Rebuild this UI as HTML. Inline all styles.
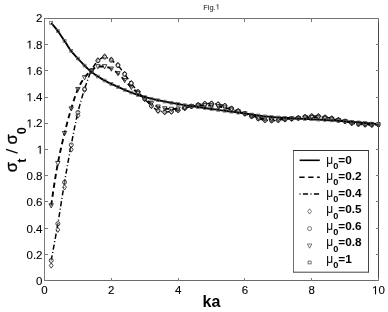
<!DOCTYPE html>
<html><head><meta charset="utf-8"><title>Fig.1</title>
<style>
html,body{margin:0;padding:0;background:#fff;}
body{width:388px;height:312px;overflow:hidden;font-family:"Liberation Sans",sans-serif;}
svg{display:block;will-change:transform;font-family:"Liberation Sans",sans-serif;}
.ln{fill:none;stroke:#000;stroke-width:1.9;stroke-linejoin:round;}
.t{stroke-dasharray:5.3 3.6;}
.d{stroke-dasharray:5.2 2.4 1 2.4;stroke-width:1.5;}
.mk *{fill:none;stroke:#2c2c2c;stroke-width:0.8;}
.mf *{fill:#fff;fill-opacity:0.35;stroke:#111;}
.lm *{stroke:#4c4c4c;stroke-width:0.75;}
.ms *{fill:none;stroke:#555;stroke-width:0.65;}
.ax{fill:none;stroke:#787878;stroke-width:1;shape-rendering:crispEdges;}
.tk text{font-size:11.5px;fill:#000;stroke:#000;stroke-width:0.1;}
.sg{font-size:16.5px;stroke:#000;stroke-width:0.35;}
.sb{font-size:12.7px;font-weight:bold;}
.g1{fill:#000;stroke:#000;stroke-width:18;}
.lg{font-size:11.8px;font-weight:bold;fill:#000;}
.lg .mu{font-weight:normal;font-size:12px;}
.lg .sub{font-size:9.2px;}
</style></head>
<body>
<svg width="388" height="312" viewBox="0 0 388 312">
<rect width="388" height="312" fill="#fff"/>
<text x="203.2" y="9.5" font-size="7.5" fill="#111">Fig.</text><path d="M515 0V1237L197 1010V1180L530 1409H696V0Z" transform="translate(215.70,9.50) scale(0.00366,-0.00366)" fill="#111"/>
<clipPath id="cp"><rect x="44.5" y="18.5" width="336.0" height="262.0"/></clipPath>
<g clip-path="url(#cp)">
<path d="M51.18,205.57 L52.85,193.79 L54.52,182.74 L56.19,172.53 L57.86,163.25 L59.53,154.90 L61.20,147.25 L62.87,140.10 L64.54,133.26 L66.21,126.62 L67.88,120.27 L69.55,114.26 L71.22,108.63 L72.89,103.23 L74.56,98.05 L76.23,93.31 L77.90,89.24 L79.57,85.73 L81.24,82.56 L82.91,79.79 L84.58,77.45 L86.25,75.49 L87.92,73.79 L89.59,72.27 L91.26,70.90 L92.93,69.46 L94.60,68.01 L96.27,66.89 L97.94,66.45 L99.61,66.45 L101.28,66.45 L102.95,66.45 L104.62,66.45 L106.29,66.67 L107.96,67.24 L109.63,68.00 L111.30,68.80 L112.97,69.70 L114.64,70.80 L116.31,72.04 L117.98,73.39 L119.65,74.93 L121.32,76.68 L122.99,78.53 L124.66,80.33 L126.33,82.09 L128.00,83.87 L129.67,85.62 L131.34,87.27 L133.01,88.83 L134.68,90.33 L136.35,91.77 L138.02,93.17 L139.69,94.53 L141.36,95.85 L143.03,97.13 L144.70,98.41 L146.37,99.72 L148.04,101.03 L149.71,102.28 L151.38,103.39 L153.05,104.38 L154.72,105.31 L156.39,106.13 L158.06,106.79 L159.73,107.34 L161.40,107.83 L163.07,108.22 L164.74,108.50 L166.41,108.69 L168.08,108.86 L169.75,108.98 L171.42,109.02 L173.09,109.00 L174.76,108.94 L176.43,108.86 L178.10,108.76 L179.77,108.61 L181.44,108.39 L183.11,108.13 L184.78,107.84 L186.45,107.48 L188.12,107.03 L189.79,106.60 L191.46,106.29 L193.13,106.11 L194.80,105.96 L196.47,105.84 L198.14,105.73 L199.81,105.62 L201.48,105.51 L203.15,105.43 L204.82,105.40 L206.49,105.42 L208.16,105.47 L209.83,105.54 L211.50,105.62 L213.17,105.75 L214.84,105.96 L216.51,106.20 L218.18,106.46 L219.85,106.72 L221.52,107.01 L223.19,107.33 L224.86,107.69 L226.53,108.12 L228.20,108.64 L229.87,109.18 L231.54,109.70 L233.21,110.18 L234.88,110.66 L236.55,111.14 L238.22,111.63 L239.89,112.13 L241.56,112.63 L243.23,113.14 L244.90,113.65 L246.57,114.17 L248.24,114.70 L249.91,115.21 L251.58,115.70 L253.25,116.16 L254.92,116.61 L256.59,117.03 L258.26,117.42 L259.93,117.79 L261.60,118.16 L263.27,118.47 L264.94,118.70 L266.61,118.87 L268.28,119.03 L269.95,119.14 L271.62,119.19 L273.29,119.18 L274.96,119.18 L276.63,119.16 L278.30,119.15 L279.97,119.11 L281.64,119.02 L283.31,118.93 L284.98,118.85 L286.65,118.79 L288.32,118.73 L289.99,118.67 L291.66,118.61 L293.33,118.52 L295.00,118.43 L296.67,118.32 L298.34,118.21 L300.01,118.07 L301.68,117.92 L303.35,117.77 L305.02,117.64 L306.69,117.53 L308.36,117.42 L310.03,117.34 L311.70,117.30 L313.37,117.32 L315.04,117.36 L316.71,117.43 L318.38,117.51 L320.05,117.65 L321.72,117.87 L323.39,118.12 L325.06,118.36 L326.73,118.55 L328.40,118.74 L330.07,118.93 L331.74,119.15 L333.41,119.40 L335.08,119.69 L336.75,119.98 L338.42,120.27 L340.09,120.53 L341.76,120.79 L343.43,121.05 L345.10,121.33 L346.77,121.65 L348.44,122.00 L350.11,122.34 L351.78,122.63 L353.45,122.88 L355.12,123.10 L356.79,123.30 L358.46,123.48 L360.13,123.64 L361.80,123.78 L363.47,123.91 L365.14,124.03 L366.81,124.15 L368.48,124.27 L370.15,124.37 L371.82,124.43 L373.49,124.47 L375.16,124.50 L376.83,124.52 L378.50,124.53" class="ln t"/>
<path d="M51.18,260.46 L52.85,251.68 L54.52,242.61 L56.19,233.26 L57.86,223.65 L59.53,213.54 L61.20,202.98 L62.87,192.41 L64.54,182.25 L66.21,172.52 L67.88,163.02 L69.55,153.79 L71.22,144.92 L72.89,136.23 L74.56,127.73 L76.23,119.71 L77.90,112.43 L79.57,105.89 L81.24,99.85 L82.91,94.24 L84.58,88.98 L86.25,83.89 L87.92,79.01 L89.59,74.59 L91.26,70.90 L92.93,67.75 L94.60,64.89 L96.27,62.51 L97.94,60.78 L99.61,59.44 L101.28,58.25 L102.95,57.41 L104.62,57.08 L106.29,57.39 L107.96,58.17 L109.63,59.19 L111.30,60.24 L112.97,61.31 L114.64,62.56 L116.31,63.97 L117.98,65.54 L119.65,67.41 L121.32,69.61 L122.99,71.96 L124.66,74.26 L126.33,76.52 L128.00,78.82 L129.67,81.12 L131.34,83.37 L133.01,85.59 L134.68,87.80 L136.35,89.94 L138.02,91.95 L139.69,93.82 L141.36,95.58 L143.03,97.29 L144.70,99.00 L146.37,100.77 L148.04,102.56 L149.71,104.27 L151.38,105.79 L153.05,107.21 L154.72,108.58 L156.39,109.74 L158.06,110.54 L159.73,111.07 L161.40,111.53 L163.07,111.85 L164.74,111.97 L166.41,111.93 L168.08,111.83 L169.75,111.68 L171.42,111.50 L173.09,111.27 L174.76,110.94 L176.43,110.55 L178.10,110.14 L179.77,109.69 L181.44,109.17 L183.11,108.64 L184.78,108.14 L186.45,107.68 L188.12,107.24 L189.79,106.81 L191.46,106.39 L193.13,105.99 L194.80,105.60 L196.47,105.23 L198.14,104.90 L199.81,104.56 L201.48,104.23 L203.15,103.95 L204.82,103.78 L206.49,103.69 L208.16,103.62 L209.83,103.57 L211.50,103.56 L213.17,103.63 L214.84,103.82 L216.51,104.08 L218.18,104.35 L219.85,104.62 L221.52,104.95 L223.19,105.33 L224.86,105.77 L226.53,106.33 L228.20,107.02 L229.87,107.76 L231.54,108.47 L233.21,109.11 L234.88,109.75 L236.55,110.39 L238.22,111.03 L239.89,111.70 L241.56,112.37 L243.23,113.05 L244.90,113.73 L246.57,114.42 L248.24,115.11 L249.91,115.79 L251.58,116.43 L253.25,117.03 L254.92,117.60 L256.59,118.13 L258.26,118.62 L259.93,119.09 L261.60,119.54 L263.27,119.92 L264.94,120.17 L266.61,120.32 L268.28,120.45 L269.95,120.54 L271.62,120.57 L273.29,120.53 L274.96,120.45 L276.63,120.33 L278.30,120.20 L279.97,120.05 L281.64,119.85 L283.31,119.64 L284.98,119.45 L286.65,119.29 L288.32,119.15 L289.99,119.00 L291.66,118.83 L293.33,118.63 L295.00,118.42 L296.67,118.19 L298.34,117.95 L300.01,117.68 L301.68,117.37 L303.35,117.07 L305.02,116.82 L306.69,116.57 L308.36,116.33 L310.03,116.14 L311.70,116.06 L313.37,116.07 L315.04,116.10 L316.71,116.15 L318.38,116.20 L320.05,116.36 L321.72,116.67 L323.39,117.03 L325.06,117.36 L326.73,117.61 L328.40,117.85 L330.07,118.10 L331.74,118.38 L333.41,118.73 L335.08,119.12 L336.75,119.53 L338.42,119.92 L340.09,120.28 L341.76,120.61 L343.43,120.96 L345.10,121.33 L346.77,121.78 L348.44,122.27 L350.11,122.74 L351.78,123.13 L353.45,123.44 L355.12,123.72 L356.79,123.96 L358.46,124.16 L360.13,124.33 L361.80,124.47 L363.47,124.59 L365.14,124.69 L366.81,124.78 L368.48,124.87 L370.15,124.93 L371.82,124.96 L373.49,124.95 L375.16,124.90 L376.83,124.83 L378.50,124.73" class="ln d"/>
<g class="mk mf"><path d="M51.18,262.97 l1.9,2.6 l-1.9,2.6 l-1.9,-2.6 z"/><path d="M57.86,227.20 l1.9,2.6 l-1.9,2.6 l-1.9,-2.6 z"/><path d="M64.54,184.63 l1.9,2.6 l-1.9,2.6 l-1.9,-2.6 z"/><path d="M71.22,146.90 l1.9,2.6 l-1.9,2.6 l-1.9,-2.6 z"/><path d="M77.90,112.97 l1.9,2.6 l-1.9,2.6 l-1.9,-2.6 z"/><path d="M84.58,87.29 l1.9,2.6 l-1.9,2.6 l-1.9,-2.6 z"/><path d="M91.26,68.30 l1.9,2.6 l-1.9,2.6 l-1.9,-2.6 z"/><path d="M97.94,57.69 l1.9,2.6 l-1.9,2.6 l-1.9,-2.6 z"/><path d="M104.62,53.76 l1.9,2.6 l-1.9,2.6 l-1.9,-2.6 z"/><path d="M111.30,56.90 l1.9,2.6 l-1.9,2.6 l-1.9,-2.6 z"/><path d="M117.98,62.27 l1.9,2.6 l-1.9,2.6 l-1.9,-2.6 z"/><path d="M124.66,71.18 l1.9,2.6 l-1.9,2.6 l-1.9,-2.6 z"/><path d="M131.34,80.48 l1.9,2.6 l-1.9,2.6 l-1.9,-2.6 z"/><path d="M138.02,89.26 l1.9,2.6 l-1.9,2.6 l-1.9,-2.6 z"/><path d="M144.70,96.47 l1.9,2.6 l-1.9,2.6 l-1.9,-2.6 z"/><path d="M151.38,103.41 l1.9,2.6 l-1.9,2.6 l-1.9,-2.6 z"/><path d="M158.06,108.26 l1.9,2.6 l-1.9,2.6 l-1.9,-2.6 z"/><path d="M164.74,109.70 l1.9,2.6 l-1.9,2.6 l-1.9,-2.6 z"/><path d="M171.42,109.17 l1.9,2.6 l-1.9,2.6 l-1.9,-2.6 z"/><path d="M178.10,107.73 l1.9,2.6 l-1.9,2.6 l-1.9,-2.6 z"/><path d="M184.78,105.64 l1.9,2.6 l-1.9,2.6 l-1.9,-2.6 z"/><path d="M191.46,103.80 l1.9,2.6 l-1.9,2.6 l-1.9,-2.6 z"/><path d="M198.14,102.23 l1.9,2.6 l-1.9,2.6 l-1.9,-2.6 z"/><path d="M204.82,101.05 l1.9,2.6 l-1.9,2.6 l-1.9,-2.6 z"/><path d="M211.50,100.79 l1.9,2.6 l-1.9,2.6 l-1.9,-2.6 z"/><path d="M218.18,101.57 l1.9,2.6 l-1.9,2.6 l-1.9,-2.6 z"/><path d="M224.86,103.02 l1.9,2.6 l-1.9,2.6 l-1.9,-2.6 z"/><path d="M231.54,105.77 l1.9,2.6 l-1.9,2.6 l-1.9,-2.6 z"/><path d="M238.22,108.39 l1.9,2.6 l-1.9,2.6 l-1.9,-2.6 z"/><path d="M244.90,111.14 l1.9,2.6 l-1.9,2.6 l-1.9,-2.6 z"/><path d="M251.58,113.89 l1.9,2.6 l-1.9,2.6 l-1.9,-2.6 z"/><path d="M258.26,116.11 l1.9,2.6 l-1.9,2.6 l-1.9,-2.6 z"/><path d="M264.94,117.69 l1.9,2.6 l-1.9,2.6 l-1.9,-2.6 z"/><path d="M271.62,118.08 l1.9,2.6 l-1.9,2.6 l-1.9,-2.6 z"/><path d="M278.30,117.69 l1.9,2.6 l-1.9,2.6 l-1.9,-2.6 z"/><path d="M284.98,116.90 l1.9,2.6 l-1.9,2.6 l-1.9,-2.6 z"/><path d="M291.66,116.25 l1.9,2.6 l-1.9,2.6 l-1.9,-2.6 z"/><path d="M298.34,115.33 l1.9,2.6 l-1.9,2.6 l-1.9,-2.6 z"/><path d="M305.02,114.15 l1.9,2.6 l-1.9,2.6 l-1.9,-2.6 z"/><path d="M311.70,113.36 l1.9,2.6 l-1.9,2.6 l-1.9,-2.6 z"/><path d="M318.38,113.50 l1.9,2.6 l-1.9,2.6 l-1.9,-2.6 z"/><path d="M325.06,114.67 l1.9,2.6 l-1.9,2.6 l-1.9,-2.6 z"/><path d="M331.74,115.72 l1.9,2.6 l-1.9,2.6 l-1.9,-2.6 z"/><path d="M338.42,117.29 l1.9,2.6 l-1.9,2.6 l-1.9,-2.6 z"/><path d="M345.10,118.73 l1.9,2.6 l-1.9,2.6 l-1.9,-2.6 z"/><path d="M351.78,120.57 l1.9,2.6 l-1.9,2.6 l-1.9,-2.6 z"/><path d="M358.46,121.62 l1.9,2.6 l-1.9,2.6 l-1.9,-2.6 z"/><path d="M365.14,122.14 l1.9,2.6 l-1.9,2.6 l-1.9,-2.6 z"/><path d="M371.82,122.40 l1.9,2.6 l-1.9,2.6 l-1.9,-2.6 z"/><path d="M378.50,122.14 l1.9,2.6 l-1.9,2.6 l-1.9,-2.6 z"/><circle cx="51.18" cy="260.46" r="2"/><circle cx="57.86" cy="223.65" r="2"/><circle cx="64.54" cy="182.25" r="2"/><circle cx="71.22" cy="144.92" r="2"/><circle cx="77.90" cy="112.43" r="2"/><circle cx="84.58" cy="88.98" r="2"/><circle cx="91.26" cy="70.90" r="2"/><circle cx="97.94" cy="60.78" r="2"/><circle cx="104.62" cy="57.08" r="2"/><circle cx="111.30" cy="60.24" r="2"/><circle cx="117.98" cy="65.54" r="2"/><circle cx="124.66" cy="74.26" r="2"/><circle cx="131.34" cy="83.37" r="2"/><circle cx="138.02" cy="91.95" r="2"/><circle cx="144.70" cy="99.00" r="2"/><circle cx="151.38" cy="105.79" r="2"/><circle cx="158.06" cy="110.54" r="2"/><circle cx="164.74" cy="111.97" r="2"/><circle cx="171.42" cy="111.50" r="2"/><circle cx="178.10" cy="110.14" r="2"/><circle cx="184.78" cy="108.14" r="2"/><circle cx="191.46" cy="106.39" r="2"/><circle cx="198.14" cy="104.90" r="2"/><circle cx="204.82" cy="103.78" r="2"/><circle cx="211.50" cy="103.56" r="2"/><circle cx="218.18" cy="104.35" r="2"/><circle cx="224.86" cy="105.77" r="2"/><circle cx="231.54" cy="108.47" r="2"/><circle cx="238.22" cy="111.03" r="2"/><circle cx="244.90" cy="113.73" r="2"/><circle cx="251.58" cy="116.43" r="2"/><circle cx="258.26" cy="118.62" r="2"/><circle cx="264.94" cy="120.17" r="2"/><circle cx="271.62" cy="120.57" r="2"/><circle cx="278.30" cy="120.20" r="2"/><circle cx="284.98" cy="119.45" r="2"/><circle cx="291.66" cy="118.83" r="2"/><circle cx="298.34" cy="117.95" r="2"/><circle cx="305.02" cy="116.82" r="2"/><circle cx="311.70" cy="116.06" r="2"/><circle cx="318.38" cy="116.20" r="2"/><circle cx="325.06" cy="117.36" r="2"/><circle cx="331.74" cy="118.38" r="2"/><circle cx="338.42" cy="119.92" r="2"/><circle cx="345.10" cy="121.33" r="2"/><circle cx="351.78" cy="123.13" r="2"/><circle cx="358.46" cy="124.16" r="2"/><circle cx="365.14" cy="124.69" r="2"/><circle cx="371.82" cy="124.96" r="2"/><circle cx="378.50" cy="124.73" r="2"/><path d="M48.98,203.77 l4.4,0 l-2.2,4.2 z"/><path d="M55.66,161.45 l4.4,0 l-2.2,4.2 z"/><path d="M62.34,131.46 l4.4,0 l-2.2,4.2 z"/><path d="M69.02,106.83 l4.4,0 l-2.2,4.2 z"/><path d="M75.70,87.44 l4.4,0 l-2.2,4.2 z"/><path d="M82.38,75.65 l4.4,0 l-2.2,4.2 z"/><path d="M89.06,69.10 l4.4,0 l-2.2,4.2 z"/><path d="M95.74,64.65 l4.4,0 l-2.2,4.2 z"/><path d="M102.42,64.65 l4.4,0 l-2.2,4.2 z"/><path d="M109.10,67.00 l4.4,0 l-2.2,4.2 z"/><path d="M115.78,71.59 l4.4,0 l-2.2,4.2 z"/><path d="M122.46,78.53 l4.4,0 l-2.2,4.2 z"/><path d="M129.14,85.47 l4.4,0 l-2.2,4.2 z"/><path d="M135.82,91.37 l4.4,0 l-2.2,4.2 z"/><path d="M142.50,96.61 l4.4,0 l-2.2,4.2 z"/><path d="M149.18,101.59 l4.4,0 l-2.2,4.2 z"/><path d="M155.86,104.99 l4.4,0 l-2.2,4.2 z"/><path d="M162.54,106.70 l4.4,0 l-2.2,4.2 z"/><path d="M169.22,107.22 l4.4,0 l-2.2,4.2 z"/><path d="M175.90,106.96 l4.4,0 l-2.2,4.2 z"/><path d="M182.58,106.04 l4.4,0 l-2.2,4.2 z"/><path d="M189.26,104.49 l4.4,0 l-2.2,4.2 z"/><path d="M195.94,103.93 l4.4,0 l-2.2,4.2 z"/><path d="M202.62,103.60 l4.4,0 l-2.2,4.2 z"/><path d="M209.30,103.82 l4.4,0 l-2.2,4.2 z"/><path d="M215.98,104.66 l4.4,0 l-2.2,4.2 z"/><path d="M222.66,105.89 l4.4,0 l-2.2,4.2 z"/><path d="M229.34,107.90 l4.4,0 l-2.2,4.2 z"/><path d="M236.02,109.83 l4.4,0 l-2.2,4.2 z"/><path d="M242.70,111.85 l4.4,0 l-2.2,4.2 z"/><path d="M249.38,113.90 l4.4,0 l-2.2,4.2 z"/><path d="M256.06,115.62 l4.4,0 l-2.2,4.2 z"/><path d="M262.74,116.90 l4.4,0 l-2.2,4.2 z"/><path d="M269.42,117.39 l4.4,0 l-2.2,4.2 z"/><path d="M276.10,117.35 l4.4,0 l-2.2,4.2 z"/><path d="M282.78,117.05 l4.4,0 l-2.2,4.2 z"/><path d="M289.46,116.81 l4.4,0 l-2.2,4.2 z"/><path d="M296.14,116.41 l4.4,0 l-2.2,4.2 z"/><path d="M302.82,115.84 l4.4,0 l-2.2,4.2 z"/><path d="M309.50,115.50 l4.4,0 l-2.2,4.2 z"/><path d="M316.18,115.71 l4.4,0 l-2.2,4.2 z"/><path d="M322.86,116.56 l4.4,0 l-2.2,4.2 z"/><path d="M329.54,117.35 l4.4,0 l-2.2,4.2 z"/><path d="M336.22,118.47 l4.4,0 l-2.2,4.2 z"/><path d="M342.90,119.53 l4.4,0 l-2.2,4.2 z"/><path d="M349.58,120.83 l4.4,0 l-2.2,4.2 z"/><path d="M356.26,121.68 l4.4,0 l-2.2,4.2 z"/><path d="M362.94,122.23 l4.4,0 l-2.2,4.2 z"/><path d="M369.62,122.63 l4.4,0 l-2.2,4.2 z"/><path d="M376.30,122.73 l4.4,0 l-2.2,4.2 z"/></g>
<path d="M51.18,22.95 L52.85,24.82 L54.52,26.80 L56.19,28.89 L57.86,31.08 L59.53,33.42 L61.20,35.93 L62.87,38.50 L64.54,41.03 L66.21,43.59 L67.88,46.18 L69.55,48.69 L71.22,50.99 L72.89,53.04 L74.56,54.96 L76.23,56.78 L77.90,58.54 L79.57,60.29 L81.24,62.05 L82.91,63.81 L84.58,65.55 L86.25,67.24 L87.92,68.84 L89.59,70.33 L91.26,71.69 L92.93,72.98 L94.60,74.21 L96.27,75.38 L97.94,76.50 L99.61,77.57 L101.28,78.59 L102.95,79.57 L104.62,80.52 L106.29,81.42 L107.96,82.29 L109.63,83.13 L111.30,83.94 L112.97,84.72 L114.64,85.48 L116.31,86.22 L117.98,86.95 L119.65,87.67 L121.32,88.38 L122.99,89.09 L124.66,89.80 L126.33,90.51 L128.00,91.20 L129.67,91.88 L131.34,92.55 L133.01,93.20 L134.68,93.82 L136.35,94.43 L138.02,95.00 L139.69,95.55 L141.36,96.06 L143.03,96.54 L144.70,96.99 L146.37,97.44 L148.04,97.86 L149.71,98.28 L151.38,98.69 L153.05,99.08 L154.72,99.46 L156.39,99.84 L158.06,100.20 L159.73,100.55 L161.40,100.90 L163.07,101.24 L164.74,101.57 L166.41,101.89 L168.08,102.21 L169.75,102.52 L171.42,102.83 L173.09,103.13 L174.76,103.43 L176.43,103.72 L178.10,104.02 L179.77,104.31 L181.44,104.59 L183.11,104.86 L184.78,105.13 L186.45,105.39 L188.12,105.64 L189.79,105.88 L191.46,106.13 L193.13,106.37 L194.80,106.60 L196.47,106.84 L198.14,107.08 L199.81,107.32 L201.48,107.56 L203.15,107.80 L204.82,108.03 L206.49,108.27 L208.16,108.50 L209.83,108.74 L211.50,108.97 L213.17,109.20 L214.84,109.43 L216.51,109.66 L218.18,109.89 L219.85,110.11 L221.52,110.34 L223.19,110.57 L224.86,110.79 L226.53,111.02 L228.20,111.24 L229.87,111.47 L231.54,111.69 L233.21,111.92 L234.88,112.14 L236.55,112.37 L238.22,112.59 L239.89,112.82 L241.56,113.05 L243.23,113.29 L244.90,113.53 L246.57,113.77 L248.24,114.02 L249.91,114.27 L251.58,114.52 L253.25,114.77 L254.92,115.01 L256.59,115.25 L258.26,115.48 L259.93,115.71 L261.60,115.92 L263.27,116.13 L264.94,116.32 L266.61,116.50 L268.28,116.66 L269.95,116.81 L271.62,116.95 L273.29,117.08 L274.96,117.21 L276.63,117.33 L278.30,117.44 L279.97,117.55 L281.64,117.66 L283.31,117.77 L284.98,117.87 L286.65,117.97 L288.32,118.06 L289.99,118.16 L291.66,118.25 L293.33,118.34 L295.00,118.44 L296.67,118.53 L298.34,118.62 L300.01,118.71 L301.68,118.81 L303.35,118.90 L305.02,118.98 L306.69,119.07 L308.36,119.15 L310.03,119.23 L311.70,119.31 L313.37,119.39 L315.04,119.47 L316.71,119.55 L318.38,119.63 L320.05,119.71 L321.72,119.80 L323.39,119.89 L325.06,119.98 L326.73,120.08 L328.40,120.18 L330.07,120.28 L331.74,120.39 L333.41,120.50 L335.08,120.61 L336.75,120.72 L338.42,120.83 L340.09,120.95 L341.76,121.07 L343.43,121.19 L345.10,121.31 L346.77,121.44 L348.44,121.57 L350.11,121.70 L351.78,121.83 L353.45,121.96 L355.12,122.10 L356.79,122.24 L358.46,122.38 L360.13,122.52 L361.80,122.66 L363.47,122.81 L365.14,122.96 L366.81,123.11 L368.48,123.26 L370.15,123.41 L371.82,123.57 L373.49,123.73 L375.16,123.89 L376.83,124.05 L378.50,124.22" class="ln s"/>
<g class="mk ms"><rect x="49.68" y="21.55" width="3" height="2.8"/><rect x="56.36" y="29.68" width="3" height="2.8"/><rect x="63.04" y="39.63" width="3" height="2.8"/><rect x="69.72" y="49.59" width="3" height="2.8"/><rect x="76.40" y="57.14" width="3" height="2.8"/><rect x="83.08" y="64.15" width="3" height="2.8"/><rect x="89.76" y="70.29" width="3" height="2.8"/><rect x="96.44" y="75.10" width="3" height="2.8"/><rect x="103.12" y="79.12" width="3" height="2.8"/><rect x="109.80" y="82.54" width="3" height="2.8"/><rect x="116.48" y="85.55" width="3" height="2.8"/><rect x="123.16" y="88.40" width="3" height="2.8"/><rect x="129.84" y="91.15" width="3" height="2.8"/><rect x="136.52" y="93.60" width="3" height="2.8"/><rect x="143.20" y="95.59" width="3" height="2.8"/><rect x="149.88" y="97.29" width="3" height="2.8"/><rect x="156.56" y="98.80" width="3" height="2.8"/><rect x="163.24" y="100.17" width="3" height="2.8"/><rect x="169.92" y="101.43" width="3" height="2.8"/><rect x="176.60" y="102.62" width="3" height="2.8"/><rect x="183.28" y="103.73" width="3" height="2.8"/><rect x="189.96" y="104.73" width="3" height="2.8"/><rect x="196.64" y="105.68" width="3" height="2.8"/><rect x="203.32" y="106.63" width="3" height="2.8"/><rect x="210.00" y="107.57" width="3" height="2.8"/><rect x="216.68" y="108.49" width="3" height="2.8"/><rect x="223.36" y="109.39" width="3" height="2.8"/><rect x="230.04" y="110.29" width="3" height="2.8"/><rect x="236.72" y="111.19" width="3" height="2.8"/><rect x="243.40" y="112.13" width="3" height="2.8"/><rect x="250.08" y="113.12" width="3" height="2.8"/><rect x="256.76" y="114.08" width="3" height="2.8"/><rect x="263.44" y="114.92" width="3" height="2.8"/><rect x="270.12" y="115.55" width="3" height="2.8"/><rect x="276.80" y="116.04" width="3" height="2.8"/><rect x="283.48" y="116.47" width="3" height="2.8"/><rect x="290.16" y="116.85" width="3" height="2.8"/><rect x="296.84" y="117.22" width="3" height="2.8"/><rect x="303.52" y="117.58" width="3" height="2.8"/><rect x="310.20" y="117.91" width="3" height="2.8"/><rect x="316.88" y="118.23" width="3" height="2.8"/><rect x="323.56" y="118.58" width="3" height="2.8"/><rect x="330.24" y="118.99" width="3" height="2.8"/><rect x="336.92" y="119.43" width="3" height="2.8"/><rect x="343.60" y="119.91" width="3" height="2.8"/><rect x="350.28" y="120.43" width="3" height="2.8"/><rect x="356.96" y="120.98" width="3" height="2.8"/><rect x="363.64" y="121.56" width="3" height="2.8"/><rect x="370.32" y="122.17" width="3" height="2.8"/><rect x="377.00" y="122.82" width="3" height="2.8"/></g>
</g>
<path class="ax" d="M44.5,18.5 V280.5" style="stroke:#7c7c7c"/>
<path class="ax" d="M44.0,280.5 H379.0" style="stroke:#6a6a6a"/>
<path class="ax" d="M44.0,18.5 H379.0" style="stroke:#727272"/>
<path class="ax" d="M378.5,18.5 V280.5" style="stroke:#484848"/>
<path class="ax" d="M44.5,280.5 v-3 M44.5,18.5 v3 M111.3,280.5 v-3 M111.3,18.5 v3 M178.1,280.5 v-3 M178.1,18.5 v3 M244.9,280.5 v-3 M244.9,18.5 v3 M311.7,280.5 v-3 M311.7,18.5 v3 M378.5,280.5 v-3 M378.5,18.5 v3 M44.5,280.5 h3 M378.5,280.5 h-3 M44.5,254.3 h3 M378.5,254.3 h-3 M44.5,228.1 h3 M378.5,228.1 h-3 M44.5,201.9 h3 M378.5,201.9 h-3 M44.5,175.7 h3 M378.5,175.7 h-3 M44.5,149.5 h3 M378.5,149.5 h-3 M44.5,123.3 h3 M378.5,123.3 h-3 M44.5,97.1 h3 M378.5,97.1 h-3 M44.5,70.9 h3 M378.5,70.9 h-3 M44.5,44.7 h3 M378.5,44.7 h-3 M44.5,18.5 h3 M378.5,18.5 h-3"/>
<g class="tk"><text x="42.5" y="285.1" text-anchor="end">0</text><text x="42.5" y="258.8" text-anchor="end">0.2</text><text x="42.5" y="232.5" text-anchor="end">0.4</text><text x="42.5" y="206.3" text-anchor="end">0.6</text><text x="42.5" y="180.0" text-anchor="end">0.8</text><path d="M515 0V1237L197 1010V1180L530 1409H696V0Z" transform="translate(36.81,153.70) scale(0.00562,-0.00562)" class="g1"/><text x="42.5" y="127.4" text-anchor="end">.2</text><path d="M515 0V1237L197 1010V1180L530 1409H696V0Z" transform="translate(26.52,127.42) scale(0.00562,-0.00562)" class="g1"/><text x="42.5" y="101.1" text-anchor="end">.4</text><path d="M515 0V1237L197 1010V1180L530 1409H696V0Z" transform="translate(26.52,101.14) scale(0.00562,-0.00562)" class="g1"/><text x="42.5" y="74.9" text-anchor="end">.6</text><path d="M515 0V1237L197 1010V1180L530 1409H696V0Z" transform="translate(26.52,74.86) scale(0.00562,-0.00562)" class="g1"/><text x="42.5" y="48.6" text-anchor="end">.8</text><path d="M515 0V1237L197 1010V1180L530 1409H696V0Z" transform="translate(26.52,48.58) scale(0.00562,-0.00562)" class="g1"/><text x="42.5" y="22.3" text-anchor="end">2</text><text x="44.5" y="294.2" text-anchor="middle">0</text><text x="111.3" y="294.2" text-anchor="middle">2</text><text x="178.1" y="294.2" text-anchor="middle">4</text><text x="244.9" y="294.2" text-anchor="middle">6</text><text x="311.7" y="294.2" text-anchor="middle">8</text><path d="M515 0V1237L197 1010V1180L530 1409H696V0Z" transform="translate(372.11,294.20) scale(0.00562,-0.00562)" class="g1"/><text x="378.5" y="294.2">0</text></g>
<rect x="293.5" y="150.5" width="75.0" height="121.7" fill="#fff" stroke="none"/>
<path d="M293.5,150.5 V272.2" stroke="#6e6e6e" fill="none"/>
<path d="M293.0,150.5 H369.0" stroke="#333" fill="none"/>
<path d="M293.0,272.2 H369.0" stroke="#444" fill="none"/>
<path d="M368.5,150.5 V272.2" stroke="#444" fill="none"/>
<path d="M299.6,160.3 H319.8" class="ln s" style="stroke-width:1.6"/>
<path d="M299.3,177.2 H319.8" class="ln t" style="stroke-width:1.6"/>
<path d="M299.5,194.0 H319.8" class="ln d" style="stroke-width:1.3;stroke-dashoffset:7.6"/>
<g class="mk lm"><path d="M309.60,208.80 l1.9,2.6 l-1.9,2.6 l-1.9,-2.6 z"/><circle cx="309.60" cy="228.60" r="2"/><path d="M307.40,244.00 l4.4,0 l-2.2,4.2 z"/><rect x="308.10" y="261.10" width="3" height="2.8"/></g>
<text class="lg" x="326.3" y="163.5"><tspan class="mu">μ</tspan><tspan class="sub" dy="5.3">0</tspan><tspan dy="-5.3">=0</tspan></text>
<text class="lg" x="326.3" y="180.1"><tspan class="mu">μ</tspan><tspan class="sub" dy="5.3">0</tspan><tspan dy="-5.3">=0.2</tspan></text>
<text class="lg" x="326.3" y="196.6"><tspan class="mu">μ</tspan><tspan class="sub" dy="5.3">0</tspan><tspan dy="-5.3">=0.4</tspan></text>
<text class="lg" x="326.3" y="213.2"><tspan class="mu">μ</tspan><tspan class="sub" dy="5.3">0</tspan><tspan dy="-5.3">=0.5</tspan></text>
<text class="lg" x="326.3" y="229.7"><tspan class="mu">μ</tspan><tspan class="sub" dy="5.3">0</tspan><tspan dy="-5.3">=0.6</tspan></text>
<text class="lg" x="326.3" y="246.2"><tspan class="mu">μ</tspan><tspan class="sub" dy="5.3">0</tspan><tspan dy="-5.3">=0.8</tspan></text>
<text class="lg" x="326.3" y="262.8"><tspan class="mu">μ</tspan><tspan class="sub" dy="5.3">0</tspan><tspan dy="-5.3">=1</tspan></text>
<text x="211.4" y="307.2" text-anchor="middle" font-size="16" font-weight="bold">ka</text>
<g transform="rotate(-90)" fill="#000">
<text class="sg" x="-172.3" y="17.3">σ</text>
<text class="sb" x="-162.8" y="25.5">t</text>
<text class="sg" x="-144.6" y="17.3">σ</text>
<text class="sb" x="-134.3" y="25.6" font-size="13.8">0</text>
</g>
<path d="M17.6,153.1 L6.1,149.4" stroke="#000" stroke-width="1.3" fill="none"/>
</svg>
</body></html>
